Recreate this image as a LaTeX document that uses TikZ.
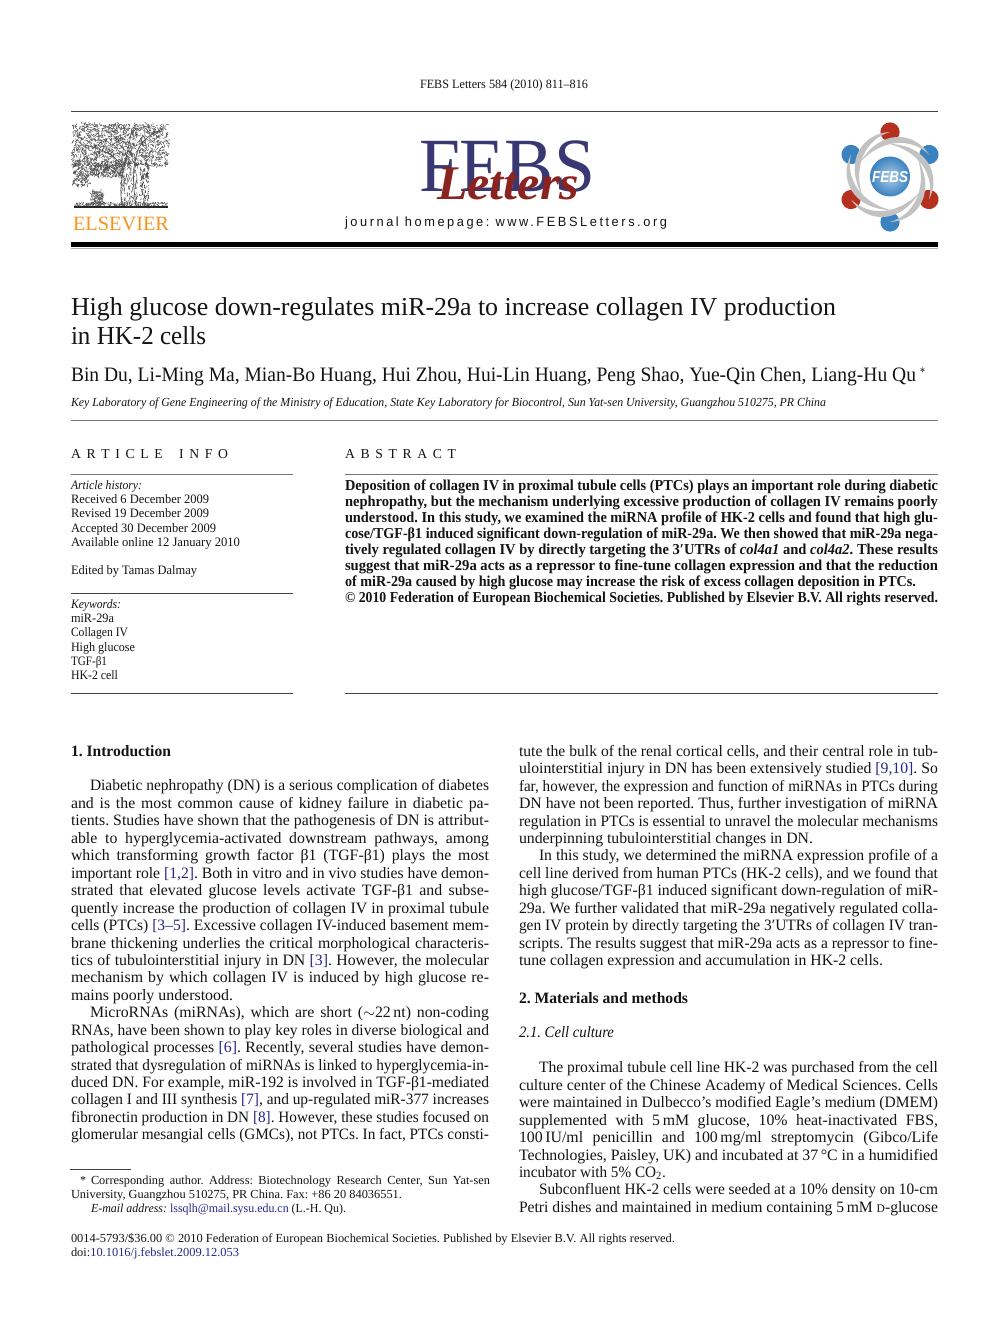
\documentclass[tikz,border=0pt]{standalone}
\usepackage{graphicx}
\usepackage{fontspec}
\setmainfont{Liberation Serif}
\newfontfamily\sansf{Liberation Sans}
\definecolor{lnk}{HTML}{26268A}
\definecolor{febsnavy}{HTML}{393873}
\definecolor{febsred}{HTML}{8B2321}
\definecolor{logored}{HTML}{B5301F}
\definecolor{logoblue}{HTML}{3A82C0}
\definecolor{logogray}{HTML}{C2C2C2}
\definecolor{elsorange}{HTML}{F7941E}
\definecolor{ruled}{HTML}{444444}
\definecolor{ruleg}{HTML}{777777}
\newcommand\bodyf{\fontsize{9.5}{11}\selectfont}
\newcommand\absf{\fontsize{9.1}{11}\selectfont\bfseries}
\newcommand\infof{\fontsize{7.7}{9}\selectfont}
\newcommand\footf{\fontsize{7.4}{9}\selectfont}
\newcommand\headf{\fontsize{9.5}{11}\selectfont\bfseries}
\newcommand\lk[1]{\textcolor{lnk}{#1}}
\newsavebox\lbox
\newlength\lw
\newcounter{lc}
% justified: spaces stretch when the line is short, glyphs narrow when it is long
\newcommand\fitj[2]{\sbox\lbox{#2}\setlength\lw{#1pt}\setlength\lw{.6\lw}%
  \ifdim\wd\lbox<\lw\hbox to \lw{\spaceskip=.25em plus 1fil\relax#2}\else\scl\fi}
% scaled: glyphs scaled horizontally to the exact width
\newcommand\fits[2]{\sbox\lbox{#2}\setlength\lw{#1pt}\setlength\lw{.6\lw}\scl}
\newcommand\scl{\pgfmathparse{\the\lw/\the\wd\lbox}\let\rr\pgfmathresult\scalebox{\rr}[1]{\usebox\lbox}}
\newcommand\jl[5][\bodyf]{\stepcounter{lc}\node[txt] (t\arabic{lc}) at (#2,#3) {#1\fitj{#4}{#5}};}
\newcommand\fl[5][\bodyf]{\stepcounter{lc}\node[txt] (t\arabic{lc}) at (#2,#3) {#1\fits{#4}{#5}};}
\tikzset{
  txt/.style={anchor=base west,inner sep=0pt,outer sep=0pt,text=black!92,yshift=-0.6pt},
  ruledark/.style={draw=ruled,line width=0.6pt},
  rulegray/.style={draw=ruleg,line width=0.6pt},
  treeink/.style={draw=black!70,line width=0.28pt},
  treedark/.style={draw=black!70,line width=0.4pt}
}
\frenchspacing
\begin{document}
\begin{tikzpicture}[x=0.6pt,y=-0.6pt]
\useasboundingbox (0,0) rectangle (992,1323);
\fill[white] (0,0) rectangle (992,1323);
% ---------- rules
\draw[ruledark] (71,111.5) -- (938,111.5);
\fill[black] (71,242) rectangle (938,247);
\draw[draw=black!30,line width=0.5pt] (71,248) -- (938,248);
\draw[rulegray] (71,420) -- (938,420);
\draw[rulegray] (71,474) -- (293,474);
\draw[ruledark] (71,593) -- (293,593);
\draw[ruledark] (71,693) -- (293,693);
\draw[rulegray] (345,474) -- (938,474);
\draw[ruledark] (345,693) -- (938,693);
\draw[ruledark] (70,1169) -- (131,1169);
% ---------- header
\fl[\fontsize{7.6}{9}\selectfont]{420}{87.5}{168}{FEBS Letters 584 (2010) 811–816}
% ---------- Elsevier tree
\pgfmathsetseed{7}
\foreach \i in {1,...,1300}{
  \pgfmathsetmacro\xa{73+95*rnd}\pgfmathsetmacro\ya{124+42*rnd}
  \pgfmathsetmacro\dx{6*rnd-3}\pgfmathsetmacro\dy{6*rnd-3}
  \draw[treeink] (\xa,\ya) -- ++(\dx,\dy);}
\foreach \i in {1,...,200}{
  \pgfmathsetmacro\xa{73+17*rnd}\pgfmathsetmacro\ya{160+26*rnd}
  \pgfmathsetmacro\dx{5*rnd-2.5}\pgfmathsetmacro\dy{5*rnd-2.5}
  \draw[treeink] (\xa,\ya) -- ++(\dx,\dy);}
\foreach \i in {1,...,300}{
  \pgfmathsetmacro\xa{90+34*rnd}\pgfmathsetmacro\ya{164+13*rnd}
  \pgfmathsetmacro\dx{5*rnd-2.5}\pgfmathsetmacro\dy{5*rnd-2.5}
  \draw[treeink] (\xa,\ya) -- ++(\dx,\dy);}
\foreach \i in {1,...,160}{
  \pgfmathsetmacro\xa{91+12*rnd}\pgfmathsetmacro\ya{191+14*rnd}
  \pgfmathsetmacro\dx{4*rnd-2}\pgfmathsetmacro\dy{4*rnd-2}
  \draw[treeink] (\xa,\ya) -- ++(\dx,\dy);}
\foreach \i in {1,...,220}{
  \pgfmathsetmacro\xa{74+94*rnd}\pgfmathsetmacro\ya{202+4*rnd}
  \pgfmathsetmacro\dx{4*rnd-2}
  \draw[treeink] (\xa,\ya) -- ++(\dx,1);}
\foreach \i in {1,...,120}{
  \pgfmathsetmacro\xa{120+17*rnd}\pgfmathsetmacro\ya{150+54*rnd}
  \pgfmathsetmacro\dx{4*rnd-2}\pgfmathsetmacro\dy{6*rnd}
  \draw[treeink] (\xa,\ya) -- ++(\dx,\dy);}
\foreach \i in {1,...,110}{
  \pgfmathsetmacro\xa{140+9*rnd}\pgfmathsetmacro\ya{162+43*rnd}
  \pgfmathsetmacro\dx{2*rnd-1}\pgfmathsetmacro\dy{4*rnd}
  \draw[treedark] (\xa,\ya) -- ++(\dx,\dy);}
\draw[treedark] (122,205) .. controls (118,180) and (126,165) .. (132,128);
\draw[treedark] (136,205) .. controls (132,180) and (133,165) .. (138,150) .. controls (142,140) and (150,135) .. (160,130);
\draw[treedark] (124,170) .. controls (116,155) and (105,150) .. (85,145);
\draw[treedark] (122,178) .. controls (112,162) and (100,162) .. (90,172);
\draw[draw=black!85,line width=0.9pt] (74,207) -- (168,207);
\fl[\fontsize{12.2}{14}\selectfont\color{elsorange}]{73}{229.5}{96}{ELSEVIER}
% ---------- FEBS Letters word mark
\fl[\fontsize{46}{50}\selectfont\color{febsnavy}]{419}{190.5}{176}{FEBS}
\fl[\fontsize{29}{32}\selectfont\bfseries\itshape\color{febsred}]{437}{198.5}{142}{Letters}
\stepcounter{lc}
\node[txt] (t\arabic{lc}) at (345,226) {\fontsize{8}{10}\selectfont\sansf\addfontfeature{LetterSpace=20}\fits{322}{journal homepage: www.FEBSLetters.org}};
% ---------- FEBS logo
\foreach \a/\c in {0/logored,60/logoblue,120/logored,180/logoblue,240/logored,300/logoblue}{
  \begin{scope}[shift={(890,177)},rotate=\a]
    \fill[\c] (0,-45) circle[radius=9.6];
  \end{scope}}
\foreach \a in {0,60,...,300}{
  \begin{scope}[shift={(890,177)},rotate=\a]
    \fill[logogray] (0,-45) .. controls (-26,-44) and (-47,-18) .. (-28,18)
       .. controls (-37,-12) and (-24,-38) .. (0,-45) -- cycle;
  \end{scope}}
\shade[inner color=logoblue!40!white,outer color=logoblue] (890,176.5) circle[radius=20];
\stepcounter{lc}
\node[txt,text=white] (t\arabic{lc}) at (872,181) {\fontsize{9.5}{11}\selectfont\sansf\bfseries\itshape\fits{36}{FEBS}};
% ---------- title block
\fl[\fontsize{15.5}{18}\selectfont]{71}{314}{765}{High glucose down-regulates miR-29a to increase collagen IV production}
\fl[\fontsize{15.5}{18}\selectfont]{71}{343}{135}{in HK-2 cells}
\fl[\fontsize{12.3}{14}\selectfont]{71}{380.5}{845}{Bin Du, Li-Ming Ma, Mian-Bo Huang, Hui Zhou, Hui-Lin Huang, Peng Shao, Yue-Qin Chen, Liang-Hu Qu}
\fl[\fontsize{8}{9}\selectfont]{920}{375}{5}{*}
\fl[\fontsize{7.4}{9}\selectfont\itshape]{71}{405}{755}{Key Laboratory of Gene Engineering of the Ministry of Education, State Key Laboratory for Biocontrol, Sun Yat-sen University, Guangzhou 510275, PR China}
% ---------- article info
\jl[\fontsize{8.2}{9}\selectfont]{71}{457}{157}{A R T I C L E\hspace{1.2em}I N F O}
\fl[\infof\itshape]{71}{488}{71}{Article history:}
\fl[\infof]{71}{502}{138}{Received 6 December 2009}
\fl[\infof]{71}{516.5}{138}{Revised 19 December 2009}
\fl[\infof]{71}{531}{145}{Accepted 30 December 2009}
\fl[\infof]{71}{545}{169}{Available online 12 January 2010}
\fl[\infof]{71}{573.5}{126}{Edited by Tamas Dalmay}
\fl[\infof\itshape]{71}{607.5}{50}{Keywords:}
\fl[\infof]{71}{621.5}{43}{miR-29a}
\fl[\infof]{71}{635.5}{57}{Collagen IV}
\fl[\infof]{71}{650}{64}{High glucose}
\fl[\infof]{71}{664}{36}{TGF-β1}
\fl[\infof]{71}{678}{47}{HK-2 cell}
% ---------- abstract
\jl[\fontsize{8.2}{9}\selectfont]{345}{457}{111}{A B S T R A C T}
\jl[\absf]{345}{489}{593}{Deposition of collagen IV in proximal tubule cells (PTCs) plays an important role during diabetic}
\jl[\absf]{345}{505}{593}{nephropathy, but the mechanism underlying excessive production of collagen IV remains poorly}
\jl[\absf]{345}{521}{593}{understood. In this study, we examined the miRNA profile of HK-2 cells and found that high glu-}
\jl[\absf]{345}{537}{593}{cose/TGF-β1 induced significant down-regulation of miR-29a. We then showed that miR-29a nega-}
\jl[\absf]{345}{553}{593}{tively regulated collagen IV by directly targeting the 3′UTRs of \textit{col4a1} and \textit{col4a2}. These results}
\jl[\absf]{345}{569}{593}{suggest that miR-29a acts as a repressor to fine-tune collagen expression and that the reduction}
\fl[\absf]{345}{585}{571}{of miR-29a caused by high glucose may increase the risk of excess collagen deposition in PTCs.}
\fl[\absf]{345}{601}{593}{© 2010 Federation of European Biochemical Societies. Published by Elsevier B.V. All rights reserved.}
% ---------- left column
\fl[\headf]{71}{755}{100}{1. Introduction}
\jl{90}{789.5}{399}{Diabetic nephropathy (DN) is a serious complication of diabetes}
\jl{71}{807}{418}{and is the most common cause of kidney failure in diabetic pa-}
\jl{71}{824}{418}{tients. Studies have shown that the pathogenesis of DN is attribut-}
\jl{71}{842}{418}{able to hyperglycemia-activated downstream pathways, among}
\jl{71}{859}{418}{which transforming growth factor β1 (TGF-β1) plays the most}
\jl{71}{877}{418}{important role \lk{[1,2]}. Both in vitro and in vivo studies have demon-}
\jl{71}{894}{418}{strated that elevated glucose levels activate TGF-β1 and subse-}
\jl{71}{912}{418}{quently increase the production of collagen IV in proximal tubule}
\jl{71}{929}{418}{cells (PTCs) \lk{[3–5]}. Excessive collagen IV-induced basement mem-}
\jl{71}{947}{418}{brane thickening underlies the critical morphological characteris-}
\jl{71}{964}{418}{tics of tubulointerstitial injury in DN \lk{[3]}. However, the molecular}
\jl{71}{981.5}{418}{mechanism by which collagen IV is induced by high glucose re-}
\fl{71}{999}{162}{mains poorly understood.}
\jl{90}{1016.5}{399}{MicroRNAs (miRNAs), which are short ($\sim$22\,nt) non-coding}
\jl{71}{1034}{418}{RNAs, have been shown to play key roles in diverse biological and}
\jl{71}{1051.5}{418}{pathological processes \lk{[6]}. Recently, several studies have demon-}
\jl{71}{1069}{418}{strated that dysregulation of miRNAs is linked to hyperglycemia-in-}
\jl{71}{1086}{418}{duced DN. For example, miR-192 is involved in TGF-β1-mediated}
\jl{71}{1103.5}{418}{collagen I and III synthesis \lk{[7]}, and up-regulated miR-377 increases}
\jl{71}{1121}{418}{fibronectin production in DN \lk{[8]}. However, these studies focused on}
\jl{71}{1138.5}{418}{glomerular mesangial cells (GMCs), not PTCs. In fact, PTCs consti-}
% ---------- right column
\jl{519}{755}{419}{tute the bulk of the renal cortical cells, and their central role in tub-}
\jl{519}{772}{419}{ulointerstitial injury in DN has been extensively studied \lk{[9,10]}. So}
\jl{519}{790}{419}{far, however, the expression and function of miRNAs in PTCs during}
\jl{519}{807}{419}{DN have not been reported. Thus, further investigation of miRNA}
\jl{519}{825}{419}{regulation in PTCs is essential to unravel the molecular mechanisms}
\fl{519}{842}{294}{underpinning tubulointerstitial changes in DN.}
\jl{539}{859.5}{399}{In this study, we determined the miRNA expression profile of a}
\jl{519}{877}{419}{cell line derived from human PTCs (HK-2 cells), and we found that}
\jl{519}{894.5}{419}{high glucose/TGF-β1 induced significant down-regulation of miR-}
\jl{519}{912}{419}{29a. We further validated that miR-29a negatively regulated colla-}
\jl{519}{929.5}{419}{gen IV protein by directly targeting the 3′UTRs of collagen IV tran-}
\jl{519}{947}{419}{scripts. The results suggest that miR-29a acts as a repressor to fine-}
\fl{519}{964}{364}{tune collagen expression and accumulation in HK-2 cells.}
\fl[\headf]{519}{1002}{169}{2. Materials and methods}
\fl[\bodyf\itshape]{519}{1036}{95}{2.1. Cell culture}
\jl{539}{1071.5}{399}{The proximal tubule cell line HK-2 was purchased from the cell}
\jl{519}{1089}{419}{culture center of the Chinese Academy of Medical Sciences. Cells}
\jl{519}{1106}{419}{were maintained in Dulbecco’s modified Eagle’s medium (DMEM)}
\jl{519}{1124}{419}{supplemented with 5\,mM glucose, 10\% heat-inactivated FBS,}
\jl{519}{1141}{419}{100\,IU/ml penicillin and 100\,mg/ml streptomycin (Gibco/Life}
\jl{519}{1159}{419}{Technologies, Paisley, UK) and incubated at 37\,°C in a humidified}
\fl{519}{1176}{147}{incubator with 5\% CO\textsubscript{2}.}
\jl{539}{1193}{399}{Subconfluent HK-2 cells were seeded at a 10\% density on 10-cm}
\jl{519}{1211}{419}{Petri dishes and maintained in medium containing 5\,mM {\fontsize{7}{9}\selectfont D}-glucose}
% ---------- footnotes and footer
\fl[\footf]{80}{1183}{6}{*}
\jl[\footf]{91}{1183.5}{399}{Corresponding author. Address: Biotechnology Research Center, Sun Yat-sen}
\fl[\footf]{71}{1197.5}{331}{University, Guangzhou 510275, PR China. Fax: +86 20 84036551.}
\fl[\footf]{91}{1211.5}{255}{\textit{E-mail address:} \lk{lssqlh@mail.sysu.edu.cn} (L.-H. Qu).}
\fl[\footf]{71}{1241.5}{604}{0014-5793/\$36.00 © 2010 Federation of European Biochemical Societies. Published by Elsevier B.V. All rights reserved.}
\fl[\footf]{71}{1255.5}{168}{doi:\lk{10.1016/j.febslet.2009.12.053}}
\end{tikzpicture}
\end{document}
